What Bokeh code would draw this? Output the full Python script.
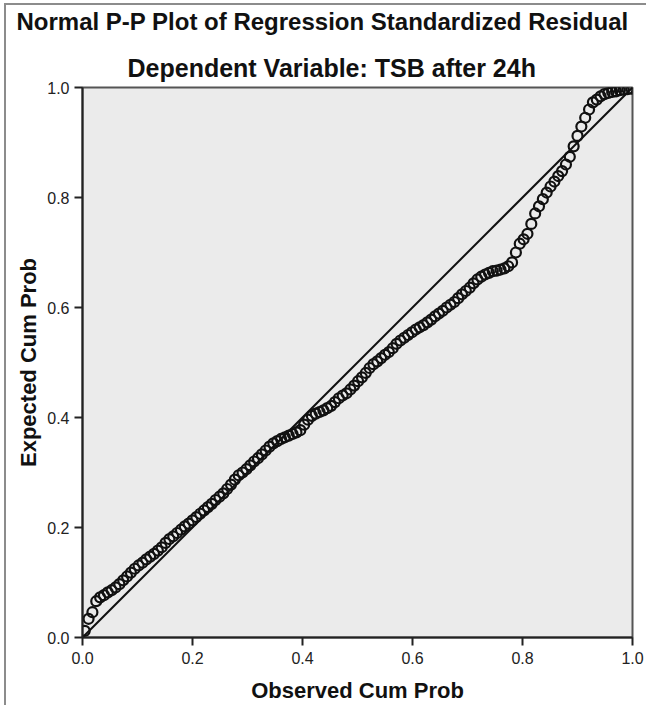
from bokeh.plotting import figure
from bokeh.models import Range1d, ColumnDataSource, Title, CustomJSTickFormatter
from bokeh.embed import file_html
from bokeh.resources import INLINE

# Observed cumulative probability (x) and expected cumulative probability (y)
observed = [0.004, 0.011, 0.018, 0.025, 0.032, 0.039, 0.046, 0.053, 0.060, 0.067,
            0.074, 0.081, 0.088, 0.095, 0.102, 0.109, 0.116, 0.123, 0.130, 0.137,
            0.144, 0.151, 0.158, 0.165, 0.172, 0.179, 0.186, 0.193, 0.200, 0.207,
            0.214, 0.221, 0.228, 0.235, 0.242, 0.249, 0.256, 0.263, 0.270, 0.277,
            0.284, 0.291, 0.298, 0.305, 0.312, 0.319, 0.326, 0.333, 0.340, 0.347,
            0.354, 0.361, 0.368, 0.375, 0.382, 0.389, 0.396, 0.403, 0.410, 0.417,
            0.424, 0.431, 0.438, 0.445, 0.452, 0.459, 0.466, 0.473, 0.480, 0.487,
            0.494, 0.501, 0.508, 0.515, 0.522, 0.529, 0.536, 0.543, 0.550, 0.557,
            0.564, 0.571, 0.578, 0.585, 0.592, 0.599, 0.606, 0.613, 0.620, 0.627,
            0.634, 0.641, 0.648, 0.655, 0.662, 0.669, 0.676, 0.683, 0.690, 0.697,
            0.704, 0.711, 0.718, 0.725, 0.732, 0.739, 0.746, 0.753, 0.760, 0.767,
            0.774, 0.781, 0.788, 0.795, 0.802, 0.809, 0.816, 0.823, 0.830, 0.837,
            0.844, 0.851, 0.858, 0.865, 0.872, 0.879, 0.886, 0.893, 0.900, 0.907,
            0.914, 0.921, 0.928, 0.935, 0.942, 0.949, 0.956, 0.963, 0.970, 0.977,
            0.984, 0.991, 0.998]
expected = [0.012, 0.034, 0.046, 0.066, 0.073, 0.077, 0.082, 0.086, 0.091, 0.097,
            0.104, 0.111, 0.118, 0.125, 0.131, 0.136, 0.142, 0.147, 0.152, 0.158,
            0.164, 0.172, 0.179, 0.184, 0.190, 0.196, 0.202, 0.207, 0.213, 0.219,
            0.225, 0.231, 0.237, 0.243, 0.250, 0.256, 0.262, 0.270, 0.278, 0.287,
            0.295, 0.300, 0.306, 0.313, 0.320, 0.326, 0.333, 0.340, 0.347, 0.353,
            0.357, 0.361, 0.364, 0.367, 0.370, 0.373, 0.377, 0.387, 0.396, 0.403,
            0.407, 0.410, 0.413, 0.417, 0.421, 0.428, 0.435, 0.440, 0.444, 0.451,
            0.458, 0.466, 0.473, 0.481, 0.490, 0.497, 0.502, 0.508, 0.514, 0.519,
            0.526, 0.534, 0.540, 0.545, 0.550, 0.555, 0.560, 0.564, 0.568, 0.573,
            0.578, 0.584, 0.589, 0.594, 0.600, 0.605, 0.610, 0.617, 0.624, 0.630,
            0.636, 0.644, 0.651, 0.656, 0.660, 0.663, 0.666, 0.667, 0.669, 0.671,
            0.675, 0.682, 0.700, 0.716, 0.724, 0.734, 0.752, 0.771, 0.784, 0.797,
            0.809, 0.820, 0.829, 0.839, 0.848, 0.860, 0.874, 0.893, 0.912, 0.929,
            0.945, 0.960, 0.973, 0.978, 0.984, 0.988, 0.990, 0.992, 0.993, 0.995,
            0.996, 0.997, 0.998]

ref_x = [0.0, 1.0]
ref_y = [0.0, 1.0]
ticks = [0.0, 0.2, 0.4, 0.6, 0.8, 1.0]

title_text = "Normal P-P Plot of Regression Standardized Residual"
subtitle_text = "Dependent Variable: TSB after 24h"
x_label = "Observed Cum Prob"
y_label = "Expected Cum Prob"

FONT = "Liberation Sans"

p = figure(width=640, height=704, output_backend="svg", toolbar_location=None,
           x_range=Range1d(0, 1), y_range=Range1d(0, 1),
           min_border_left=76, min_border_right=14, min_border_top=0,
           min_border_bottom=66, frame_width=550, frame_height=550)
p.styles = {"border-left": "2px solid #8c8c8c", "border-top": "2px solid #8c8c8c",
            "margin-left": "4px", "margin-top": "3px"}

p.background_fill_color = "#EBEBEB"
p.border_fill_color = "white"
p.outline_line_color = "#555555"
p.outline_line_width = 2
p.grid.visible = False

for ax in (p.xaxis, p.yaxis):
    ax.ticker = ticks
    ax.minor_tick_line_color = None
    ax.major_tick_in = 0
    ax.major_tick_out = 8
    ax.major_tick_line_color = "#222222"
    ax.major_tick_line_width = 2
    ax.axis_line_color = "#222222"
    ax.axis_line_width = 2
    ax.major_label_text_font = FONT
    ax.major_label_text_font_size = "16px"
    ax.major_label_text_color = "#222222"
    ax.axis_label_text_font = FONT
    ax.axis_label_text_font_size = "22px"
    ax.axis_label_text_font_style = "bold"
    ax.axis_label_text_color = "#111111"

fmt = CustomJSTickFormatter(code="return tick.toFixed(1);")
p.xaxis.formatter = fmt
p.yaxis.formatter = fmt
p.xaxis.major_label_standoff = 6
p.yaxis.major_label_standoff = 5
p.xaxis.axis_label = x_label
p.yaxis.axis_label = y_label
p.xaxis.axis_label_standoff = 11
p.yaxis.axis_label_standoff = 3

p.line(ref_x, ref_y, line_color="#111111", line_width=2)

src = ColumnDataSource(dict(x=observed, y=expected))
p.scatter("x", "y", source=src, marker="circle", size=10, fill_color=None,
          line_color="#111111", line_width=2.2)

sub = Title(text=subtitle_text, align="left", text_font=FONT,
            text_font_size="25px", text_font_style="bold", text_color="#111111",
            offset=45, standoff=12)
spacer = Title(text=" ", text_font_size="1px", standoff=8)
ttl = Title(text=title_text, align="left", text_font=FONT,
            text_font_size="24px", text_font_style="bold", text_color="#111111",
            offset=-66, standoff=0)
p.add_layout(sub, "above")
p.add_layout(spacer, "above")
p.add_layout(ttl, "above")

open("out.html", "w").write(file_html(p, INLINE))
